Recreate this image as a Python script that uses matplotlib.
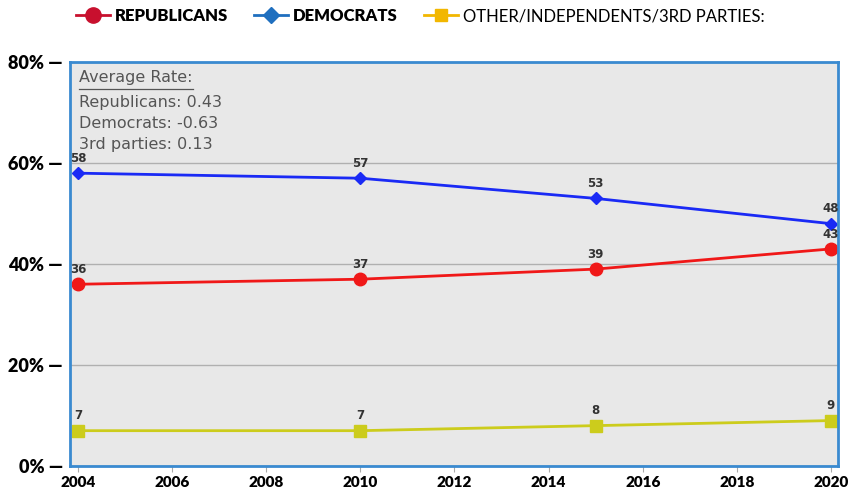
import matplotlib.pyplot as plt
from matplotlib.lines import Line2D

# Data
years = [2004, 2010, 2015, 2020]
republicans = [36, 37, 39, 43]
democrats = [58, 57, 53, 48]
others = [7, 7, 8, 9]
y_ticks = [0, 20, 40, 60, 80]
x_ticks = [2004, 2006, 2008, 2010, 2012, 2014, 2016, 2018, 2020]
avg_lines = ["Republicans: 0.43", "Democrats: -0.63", "3rd parties: 0.13"]

fig = plt.figure(figsize=(8.62, 4.92), dpi=100)
ax = fig.add_axes([0.0812, 0.0528, 0.891, 0.821])
ax.set_facecolor("#e8e8e8")

series = [
    (republicans, "#f01818", "o", 9),
    (democrats, "#1a2af5", "D", 6),
    (others, "#cccc1c", "s", 8),
]
for vals, color, marker, ms in series:
    ax.plot(years, vals, color=color, lw=2, marker=marker, ms=ms)
    for x, y in zip(years, vals):
        ax.annotate(str(y), (x, y), xytext=(0, 6), textcoords="offset points",
                    ha="center", va="bottom", fontsize=8.5, fontweight="bold",
                    color="#333333")

ax.set_xlim(2003.83, 2020.15)
ax.set_ylim(0, 80)
ax.set_yticks(y_ticks)
ax.set_yticklabels([f"{v}% —" for v in y_ticks], fontsize=13, fontweight="heavy",
                   family="Lato")
ax.tick_params(axis="y", length=0, pad=5)
ax.set_xticks(x_ticks)
ax.set_xticklabels([str(v) for v in x_ticks], fontsize=11, fontweight="heavy",
                   family="Lato")
ax.tick_params(axis="x", length=4, color="#aaaaaa", pad=3)
ax.grid(axis="y", color="#b0b0b0", lw=1)
ax.set_axisbelow(True)
for s in ax.spines.values():
    s.set_color("#3a8ad0")
    s.set_linewidth(2)

# Average rate box
ax.text(0.012, 0.98, "Average Rate:", transform=ax.transAxes, fontsize=11.5,
        color="#555555", va="top", ha="left")
ax.plot([0.012, 0.16], [0.934, 0.934], transform=ax.transAxes, color="#555555", lw=0.9)
for i, line in enumerate(avg_lines):
    ax.text(0.012, 0.918 - i * 0.052, line, transform=ax.transAxes, fontsize=11.5,
            color="#555555", va="top", ha="left")

# Legend on top
handles = [
    Line2D([], [], color="#c8102e", marker="o", ms=11, lw=2),
    Line2D([], [], color="#1f6fbf", marker="D", ms=8, lw=2),
    Line2D([], [], color="#f2b700", marker="s", ms=9, lw=2),
]
leg = fig.legend(handles, ["REPUBLICANS", "DEMOCRATS", "OTHER/INDEPENDENTS/3RD PARTIES:"],
                 loc="center left", bbox_to_anchor=(0.071, 0.967), ncol=3, frameon=False,
                 handlelength=2.0, handletextpad=0.3, columnspacing=1.6,
                 prop={"family": "Lato", "size": 12})
for i, t in enumerate(leg.get_texts()):
    if i < 2:
        t.set_fontweight("heavy")

fig.savefig("out.png", dpi=100)
